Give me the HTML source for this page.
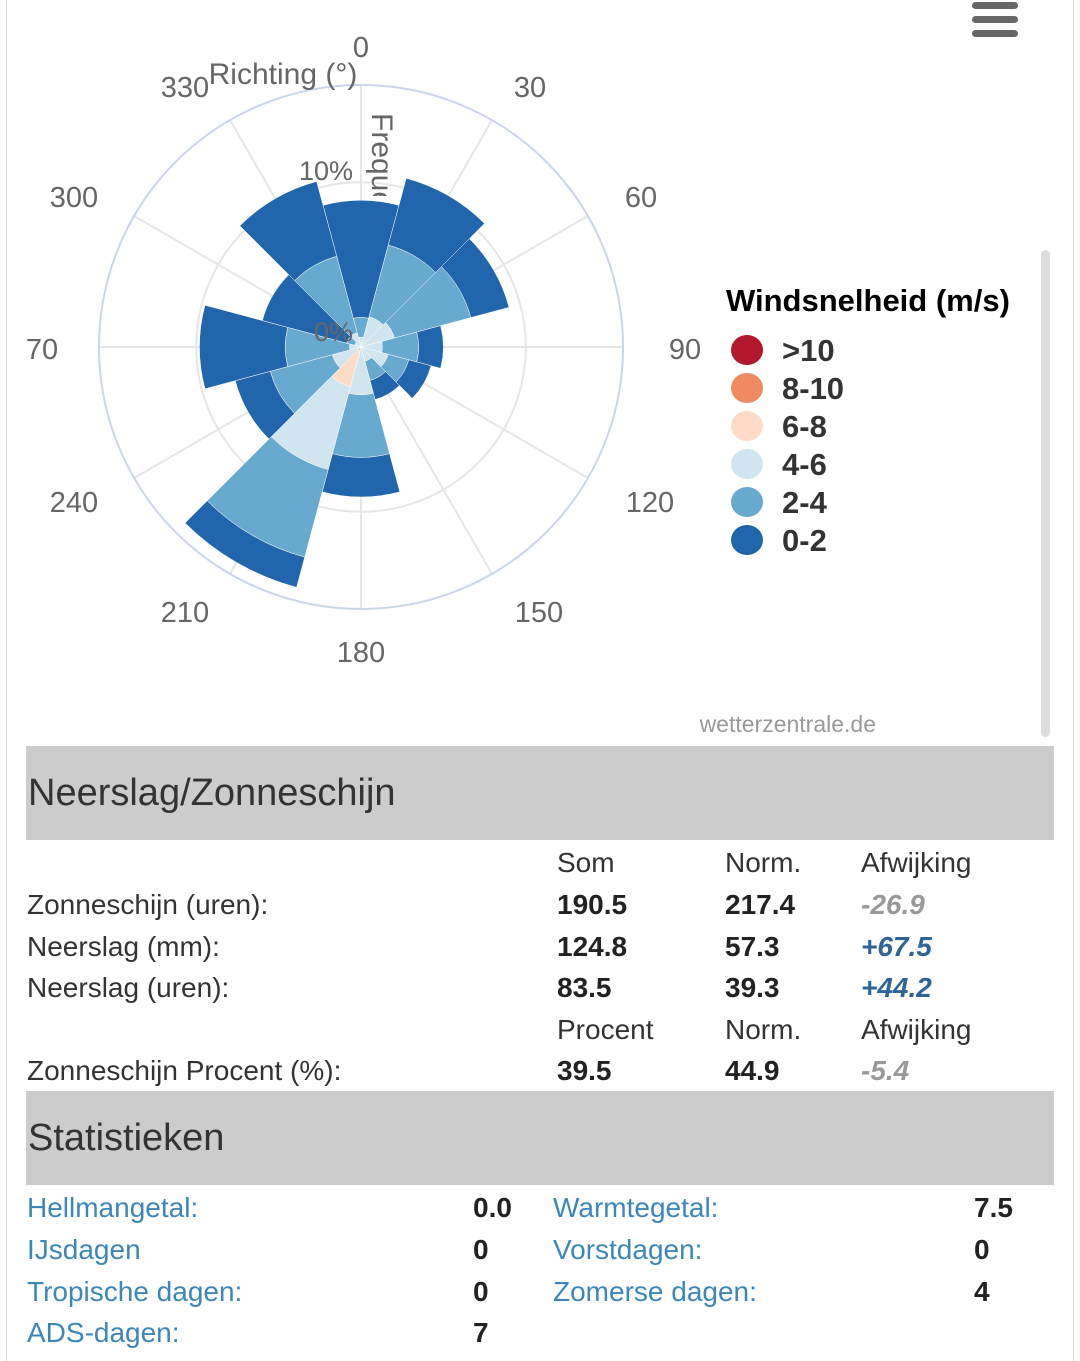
<!DOCTYPE html>
<html><head><meta charset="utf-8">
<style>
body{margin:0;width:1080px;height:1361px;background:#fff;position:relative;overflow:hidden;font-family:"Liberation Sans",sans-serif;}
.abs{position:absolute;white-space:nowrap;}
.band{position:absolute;left:26px;width:1028px;background:#cccccc;}
.band span{position:absolute;left:2px;font-size:38px;color:#333;}
.t{position:absolute;font-size:28px;color:#333;line-height:1;}
.b{font-weight:bold;color:#222;}
.neg{font-style:italic;font-weight:bold;color:#999;}
.pos{font-style:italic;font-weight:bold;color:#2f6496;}
.lnk{color:#3d87b8;}
</style></head><body>
<div class="abs" style="left:6px;top:0;width:1px;height:1361px;background:#ddd"></div>
<div class="abs" style="left:1073px;top:0;width:1px;height:1361px;background:#ddd"></div>
<div class="abs" style="left:1041px;top:250px;width:9px;height:487px;background:#ddd;border-radius:5px"></div>
<div class="abs" style="left:972px;top:2px;width:46px;height:38px">
 <div style="position:absolute;top:0;left:0;width:46px;height:7px;background:#666;border-radius:4px"></div>
 <div style="position:absolute;top:14px;left:0;width:46px;height:7px;background:#666;border-radius:4px"></div>
 <div style="position:absolute;top:28px;left:0;width:46px;height:7px;background:#666;border-radius:4px"></div>
</div>
<svg id="chart" width="1080" height="740" style="position:absolute;left:0;top:0" font-family="Liberation Sans, sans-serif"></svg>
<script>
const directions=[0,30,60,90,120,150,180,210,240,270,300,330];
const seriesNames=[">10","8-10","6-8","4-6","2-4","0-2"];
const sGt10=[0,0,0,0,0,0,0,0,0,0,0,0];
const s8to10=[0,0,0,0,0,0,0,0.2,0,0,0,0];
const s6to8=[0,0,0,0,0,0,0,2.3,0,0,0,0];
const s4to6=[0.6,1.9,2.1,1.3,1.7,0.9,2.9,5.2,1.8,0.7,0.4,0.9];
const s2to4=[1.2,4.5,4.8,2.2,1.3,1.2,3.8,5.5,3.9,3.9,0.5,4.8];
const s0to2=[7.1,4.2,2.4,1.5,1.4,1.2,2.4,1.9,2.2,5.2,5.3,4.7];
const seriesColors=["#b2182b","#ef8a62","#fddbc7","#d1e5f0","#67a9cf","#2166ac"];
const ringTicks=[0,10];
const ringLabels=["0%","10%"];
const svg=document.getElementById('chart');
const NS='http://www.w3.org/2000/svg';
const cx=361,cy=347,maxR=262,maxV=15.9;
function rScale(v){return v/maxV*maxR;}
function pt(deg,r){const a=(deg-90)*Math.PI/180;return [cx+r*Math.cos(a),cy+r*Math.sin(a)];}
function mk(tag,attrs,parent){const e=document.createElementNS(NS,tag);for(const k in attrs)e.setAttribute(k,attrs[k]);(parent||svg).appendChild(e);return e;}
const defs=mk('defs',{});defs.innerHTML='<clipPath id="clipF"><rect x="-5" y="-40" width="88" height="60"/></clipPath><clipPath id="clipL"><rect x="26" y="0" width="1054" height="740"/></clipPath>';
const g=mk('g',{'clip-path':'url(#clipL)'});
// grid
for(const d of directions){const p=pt(d,maxR);const l=mk('line',{x1:cx,y1:cy,x2:p[0],y2:p[1],stroke:'#e6e6e6','stroke-width':2},g);

}
for(const t of ringTicks){if(t===0)continue;const c=mk('circle',{cx:cx,cy:cy,r:rScale(t),fill:'none',stroke:'#e6e6e6','stroke-width':2},g);

}
const oc=mk('circle',{cx:cx,cy:cy,r:maxR,fill:'none',stroke:'#ccd6eb','stroke-width':2},g);


// bars
const series=[sGt10,s8to10,s6to8,s4to6,s2to4,s0to2];
function sector(d,r0,r1){const a0=d-15,a1=d+15;const p1=pt(a0,r1),p2=pt(a1,r1),p3=pt(a1,r0),p4=pt(a0,r0);
return `M${p4[0]},${p4[1]}L${p1[0]},${p1[1]}A${r1},${r1} 0 0 1 ${p2[0]},${p2[1]}L${p3[0]},${p3[1]}`+(r0>0?`A${r0},${r0} 0 0 0 ${p4[0]},${p4[1]}`:'')+'Z';}
directions.forEach((d,i)=>{let cum=0;series.forEach((s,si)=>{const v=s[i];if(v<=0){return;}
const r0=rScale(cum),r1=rScale(cum+v);cum+=v;
const p=mk('path',{d:sector(d,r0,r1),fill:seriesColors[si],stroke:'#fff','stroke-width':0.5},g);

});});
// labels (layout offsets relative to center, Highcharts-style placement)
function txt(x,y,s,attrs){const e=mk('text',Object.assign({x:x,y:y,fill:'#666','font-size':28},attrs||{}),g);e.textContent=s;return e;}
function labelOffset(d){const s=Math.sin(d*Math.PI/180),c=Math.cos(d*Math.PI/180);
 const ax=Math.abs(s);const dx=ax<0.01?0:(ax<0.6?169:(ax<0.9?280:324));
 const dy=Math.abs(c)>0.99?(c>0?-300:305):(Math.abs(c)>0.8?260*Math.sign(-c)+(c<0?5:0):(Math.abs(c)>0.4?(c>0?-150:155):2));
 let x=cx+Math.sign(s)*dx*(ax<0.01?0:1)+(s<-0.99?-3:0);
 if(s<-0.01&&s>-0.99)x-=7;
 if(s>0.01&&s<0.99&&c<0)x+=9;
 return [x,cy+dy];}
directions.forEach(d=>{const p=labelOffset(d);const t=txt(p[0],p[1]+10,String(d),{'text-anchor':'middle','font-size':29});

});
ringTicks.forEach((t,i)=>{const e=txt(cx-8,cy-rScale(t)-2+(t===0?-4:0),ringLabels[i],{'text-anchor':'end','font-size':27});

});
const xt=txt(283,84,'Richting (°)',{'text-anchor':'middle','font-size':30});


const yt=txt(0,0,'Frequentie',{'font-size':30,transform:'translate(372,113) rotate(90)'});


yt.setAttribute('clip-path','url(#clipF)');
// legend
const lt=txt(726,311,'Windsnelheid (m/s)',{fill:'#000','font-size':31,'font-weight':'bold'});


seriesNames.forEach((n,i)=>{const y=350+i*38;
const c=mk('ellipse',{cx:747,cy:y,rx:16,ry:15,fill:seriesColors[i]},g);


const t=txt(782,y+11,n,{fill:'#333','font-size':31,'font-weight':'bold'});

});
const cr=txt(876,732,'wetterzentrale.de',{'text-anchor':'end','font-size':23,fill:'#999'});


</script>

<div class="band" style="top:746px;height:94px"><span style="top:26px">Neerslag/Zonneschijn</span></div>
<div>
<div class="t" style="left:557px;top:849px">Som</div><div class="t" style="left:725px;top:849px">Norm.</div><div class="t" style="left:861px;top:849px">Afwijking</div>
<div class="t" style="left:27px;top:891px">Zonneschijn (uren):</div><div class="t b" style="left:557px;top:891px">190.5</div><div class="t b" style="left:725px;top:891px">217.4</div><div class="t neg" style="left:861px;top:891px">-26.9</div>
<div class="t" style="left:27px;top:933px">Neerslag (mm):</div><div class="t b" style="left:557px;top:933px">124.8</div><div class="t b" style="left:725px;top:933px">57.3</div><div class="t pos" style="left:861px;top:933px">+67.5</div>
<div class="t" style="left:27px;top:974px">Neerslag (uren):</div><div class="t b" style="left:557px;top:974px">83.5</div><div class="t b" style="left:725px;top:974px">39.3</div><div class="t pos" style="left:861px;top:974px">+44.2</div>
<div class="t" style="left:557px;top:1016px">Procent</div><div class="t" style="left:725px;top:1016px">Norm.</div><div class="t" style="left:861px;top:1016px">Afwijking</div>
<div class="t" style="left:27px;top:1057px">Zonneschijn Procent (%):</div><div class="t b" style="left:557px;top:1057px">39.5</div><div class="t b" style="left:725px;top:1057px">44.9</div><div class="t neg" style="left:861px;top:1057px">-5.4</div>
</div>
<div class="band" style="top:1091px;height:94px"><span style="top:26px">Statistieken</span></div>
<div>
<div class="t lnk" style="left:27px;top:1194px">Hellmangetal:</div><div class="t b" style="left:473px;top:1194px">0.0</div>
<div class="t lnk" style="left:553px;top:1194px">Warmtegetal:</div><div class="t b" style="left:974px;top:1194px">7.5</div>
<div class="t lnk" style="left:27px;top:1236px">IJsdagen</div><div class="t b" style="left:473px;top:1236px">0</div>
<div class="t lnk" style="left:553px;top:1236px">Vorstdagen:</div><div class="t b" style="left:974px;top:1236px">0</div>
<div class="t lnk" style="left:27px;top:1278px">Tropische dagen:</div><div class="t b" style="left:473px;top:1278px">0</div>
<div class="t lnk" style="left:553px;top:1278px">Zomerse dagen:</div><div class="t b" style="left:974px;top:1278px">4</div>
<div class="t lnk" style="left:27px;top:1319px">ADS-dagen:</div><div class="t b" style="left:473px;top:1319px">7</div>
</div>
</body></html>
